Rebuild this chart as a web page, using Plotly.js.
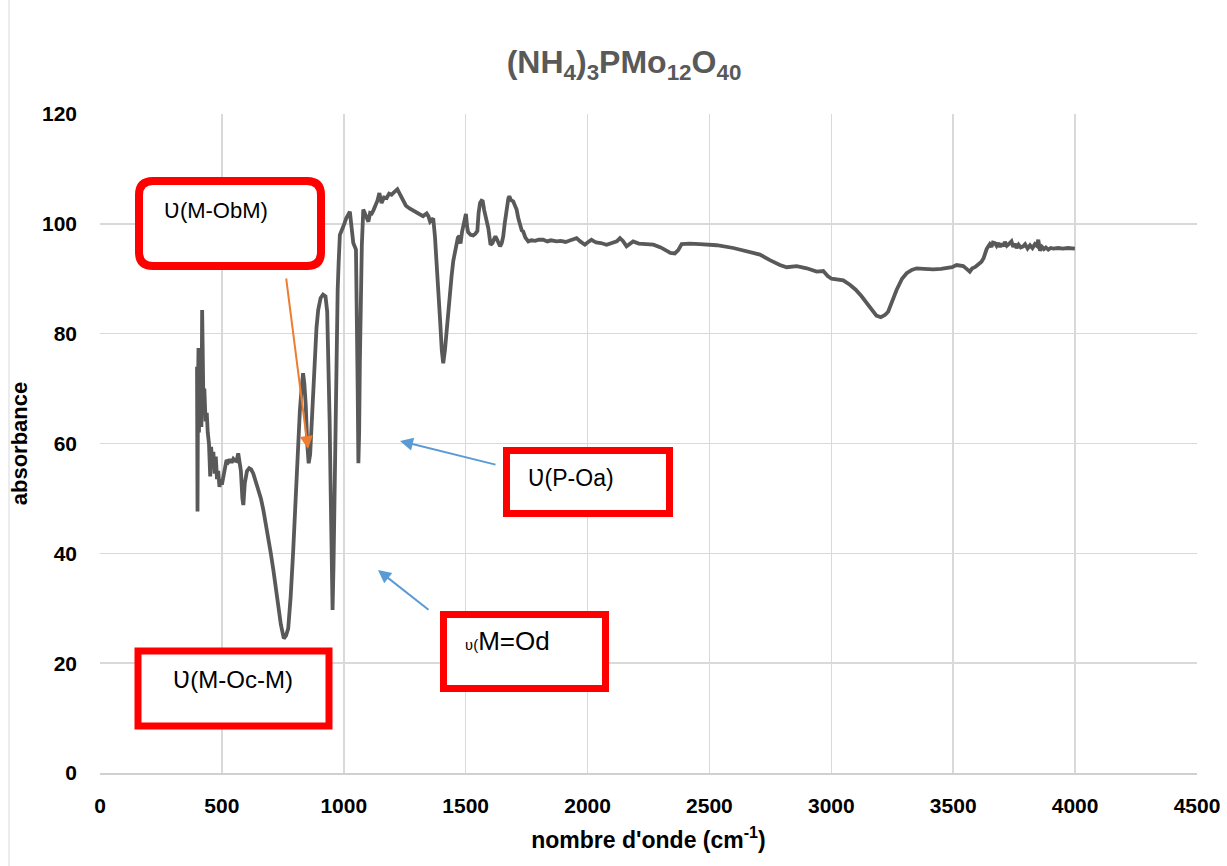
<!DOCTYPE html>
<html>
<head>
<meta charset="utf-8">
<script src="https://cdn.plot.ly/plotly-3.0.1.min.js"></script>
<style>
html,body{margin:0;padding:0;background:#fff;}
#chart{width:1227px;height:866px;}
</style>
</head>
<body>
<div id="chart"></div>
<script>
// Wavenumber (cm-1) and absorbance
const wavenumber = [398,400,402,404,406,408,410,413,416,419,421,424,428,433,438,442,447,452,456,460,465,470,475,480,485,490,495,500,506,512,519,526,533,540,547,553,560,567,572,578,584,588,594,603,612,620,629,640,650,660,670,680,690,700,711,721,731,742,754,763,772,782,792,800,806,813,820,827,833,838,844,850,856,862,867,874,881,888,895,905,915,925,932,938,942,946,950,954,958,962,966,971,975,979,984,998,1010,1025,1032,1039,1050,1054,1057,1060,1063,1066,1069,1074,1080,1090,1101,1108,1115,1122,1129,1138,1146,1150,1155,1165,1176,1186,1196,1208,1220,1228,1237,1245,1255,1270,1285,1300,1313,1325,1340,1347,1354,1360,1367,1374,1381,1388,1395,1402,1408,1415,1422,1429,1436,1442,1449,1456,1463,1468,1474,1479,1485,1490,1496,1501,1506,1510,1520,1531,1540,1548,1553,1559,1565,1570,1576,1583,1593,1602,1610,1616,1622,1630,1641,1648,1654,1660,1668,1675,1679,1686,1695,1702,1709,1716,1723,1730,1736,1745,1757,1770,1785,1800,1818,1835,1850,1873,1890,1910,1930,1955,1970,1989,2000,2016,2035,2055,2078,2100,2120,2133,2145,2160,2172,2187,2210,2240,2270,2300,2324,2340,2358,2372,2386,2420,2460,2530,2598,2653,2707,2748,2789,2817,2858,2899,2940,2967,2985,3001,3049,3076,3100,3124,3145,3165,3185,3203,3220,3233,3250,3268,3290,3309,3330,3350,3380,3418,3450,3473,3495,3514,3541,3555,3568,3578,3589,3600,3616,3625,3630,3637,3644,3650,3657,3663,3671,3678,3685,3692,3699,3705,3712,3720,3728,3739,3746,3753,3760,3768,3777,3787,3795,3805,3815,3825,3835,3843,3849,3856,3864,3872,3880,3890,3900,3910,3930,3950,3970,3999];
const absorbance = [74,47.6,70,77.4,62,76,64,72,63,84.3,78,68,70,64,65.6,62,60,54,59.4,56,58.5,54.5,57.6,53.5,55,52.1,53.5,52.5,54.0,55.5,57.0,56.6,57.1,56.5,57.2,56.9,56.8,58.2,56.7,55,50,48.8,52.8,55,55.5,55.3,54.5,53,51.8,50,47.9,45.6,43.0,40.2,37.0,33.5,30.3,27,24.5,25,26.3,32,40,48,55.2,61,66.1,70,72.8,71,67,60,56.4,58,62.5,70,76.5,81,84.3,86.5,87.1,86.8,84,74.5,64,52,38,29.7,38,50,66,80,88,93,98.0,99.5,101,102.2,99,96.5,95.3,85,70,56.4,62,75,85.6,96,102.6,101.5,100.4,102,101.9,102.5,103.2,104.2,105.6,104.5,103.8,104.8,104.7,105.5,105.3,105.8,106.3,105.6,104.7,104,103.3,102.8,102.4,102,101.6,101.4,101.9,101.4,100.4,100.8,101,97.7,93.4,87,82.5,77,74.6,77,81,85,88.0,90.4,93.2,94.8,95.8,97.5,97.8,96.4,98.5,99.8,101.3,101.8,99.5,98.5,98,97.9,98.2,98.7,102,103.8,104.2,104.1,102.5,101,99.2,96.2,96.5,97.2,97.7,97,95.9,96.5,97.7,100,103.2,104.6,105.0,104.3,104.1,103.4,102.6,101,99.5,98.8,98.6,97.5,96.8,97.0,96.9,97.1,97.1,96.8,97.0,96.8,96.9,96.7,97.0,97.4,96.8,96.2,96.6,97.1,96.6,96.5,96.2,96.6,96.8,97.4,96.9,95.9,96.4,96.8,96.4,96.3,96.2,95.7,95.0,94.7,94.6,95.2,96.3,96.4,96.3,96.1,95.6,95.0,94.4,93.4,92.5,92.1,92.3,91.9,91.3,91.4,90.5,90.0,89.7,88.9,88.0,86.8,85.6,84.3,83.3,83.0,83.4,84.0,86,88.0,90,91.0,91.6,91.9,91.8,91.7,91.8,91.9,92.1,92.5,92.3,91.8,91.3,91.9,92.1,92.5,93.1,93.8,94.6,95.4,95.9,96.3,95.8,96.6,96.5,96.0,96.5,95.8,96.4,95.9,96.7,96.0,96.3,96.8,95.8,96.4,95.6,96.2,95.7,95.9,96.3,95.5,96.1,95.6,96.3,96.0,97.1,95.1,95.8,95.4,95.7,95.3,95.6,95.5,95.6,95.5,95.6,95.5];

const xTickVals = [0,500,1000,1500,2000,2500,3000,3500,4000,4500];
const yTickVals = [0,20,40,60,80,100,120];
const chartTitle = '(NH<sub>4</sub>)<sub>3</sub>PMo<sub>12</sub>O<sub>40</sub>';
const xTitle = "nombre d'onde (cm<sup>-1</sup>)";
const yTitle = 'absorbance';
const labels = ['Ʋ(M-ObM)', 'Ʋ(P-Oa)', '<span style="font-size:15px">ʋ(</span>M=Od', 'Ʋ(M-Oc-M)'];

// layout geometry (pixels)
const W = 1227, H = 866;
const M = {l:100, r:30, t:114, b:93};
const PW = W - M.l - M.r, PH = H - M.t - M.b;
const px = x => (x - M.l) / PW;
const py = y => (H - M.b - y) / PH;

const FONT = '"Liberation Sans", Arial, sans-serif';

function rect(x0,y0,x1,y1){
  return {type:'rect', xref:'paper', yref:'paper', x0:px(x0), x1:px(x1), y0:py(y1), y1:py(y0),
    line:{color:'#ff0000', width:7}, fillcolor:'#ffffff', layer:'above'};
}
function roundRect(x0,y0,x1,y1,r){
  const X=v=>px(v), Y=v=>py(v);
  const p = `M ${X(x0+r)},${Y(y0)} L ${X(x1-r)},${Y(y0)} Q ${X(x1)},${Y(y0)} ${X(x1)},${Y(y0+r)} `+
    `L ${X(x1)},${Y(y1-r)} Q ${X(x1)},${Y(y1)} ${X(x1-r)},${Y(y1)} L ${X(x0+r)},${Y(y1)} `+
    `Q ${X(x0)},${Y(y1)} ${X(x0)},${Y(y1-r)} L ${X(x0)},${Y(y0+r)} Q ${X(x0)},${Y(y0)} ${X(x0+r)},${Y(y0)} Z`;
  return {type:'path', xref:'paper', yref:'paper', path:p, line:{color:'#ff0000', width:8}, fillcolor:'#ffffff', layer:'above'};
}
function label(text,x,y,size){
  return {text:text, xref:'paper', yref:'paper', x:px(x), y:py(y), xanchor:'left', yanchor:'middle',
    showarrow:false, font:{family:FONT, size:size, color:'#000000'}};
}
function arrow(tipX,tipY,tailX,tailY,color){
  return {text:'', xref:'paper', yref:'paper', x:px(tipX), y:py(tipY), ax:tailX-tipX, ay:tailY-tipY,
    axref:'pixel', ayref:'pixel', showarrow:true, arrowhead:2, arrowsize:1.3, arrowwidth:2, arrowcolor:color};
}

const trace = {
  x: wavenumber, y: absorbance, type:'scatter', mode:'lines',
  line:{color:'#595959', width:3.8}, hoverinfo:'skip'
};

const layout = {
  width:W, height:H,
  margin:M,
  paper_bgcolor:'#ffffff', plot_bgcolor:'#ffffff',
  showlegend:false,
  font:{family:FONT},
  title:{text:chartTitle, x:624/W, xref:'container', xanchor:'center', y:1-62/H, yref:'container', yanchor:'middle',
    font:{family:FONT, size:32, color:'#595959', weight:'bold'}},
  xaxis:{range:[0,4500], tickvals:xTickVals, ticktext:xTickVals.map(String), showgrid:true, gridcolor:'#d9d9d9', gridwidth:1.5,
    zeroline:false, showline:true, linecolor:'#d0d0d0', linewidth:1.5, ticks:'', ticklabelstandoff:13,
    tickfont:{family:FONT, size:21, color:'#000000', weight:'bold'},
    title:{text:xTitle, standoff:16, font:{family:FONT, size:23, color:'#000000', weight:'bold'}}},
  yaxis:{range:[0,120], tickvals:yTickVals, ticktext:yTickVals.map(String), showgrid:true, gridcolor:'#d9d9d9', gridwidth:1.5,
    zeroline:false, showline:false, ticks:'', ticklabelstandoff:22,
    tickfont:{family:FONT, size:21, color:'#000000', weight:'bold'},
    title:{text:yTitle, standoff:8, font:{family:FONT, size:22, color:'#000000', weight:'bold'}}},
  shapes:[
    roundRect(139,181,321,266,14),
    rect(506.5,450.5,669.5,513.5),
    rect(443.5,614.5,605.5,688.5),
    rect(138,651,329,726),
    {type:'line', xref:'paper', yref:'paper', x0:px(9), x1:px(9), y0:py(866), y1:py(0), line:{color:'#d9d9d9', width:1}}
  ],
  annotations:[
    label(labels[0],162,211,22),
    label(labels[1],526,478,23),
    label(labels[2],463,641,26),
    label(labels[3],171,679,24),
    arrow(308,449,286,277,'#ED7D31'),
    arrow(400,441,497,465,'#5B9BD5'),
    arrow(378,570,430,611,'#5B9BD5')
  ]
};

Plotly.newPlot('chart',[trace],layout,{staticPlot:true, displayModeBar:false});
</script>
</body>
</html>
